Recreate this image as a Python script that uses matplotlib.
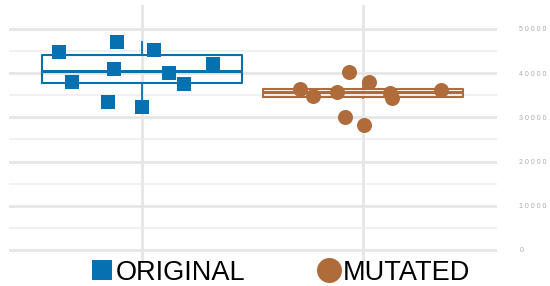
import numpy as np
import matplotlib
matplotlib.use('Agg')
import matplotlib.pyplot as plt
from matplotlib.lines import Line2D

plt.rcParams['font.family'] = ['Liberation Sans', 'DejaVu Sans']

# values
groups = ['ORIGINAL', 'MUTATED']
original = [44800, 47060, 45250, 38010, 40950, 40050, 42080, 37560, 33480, 32350]
original_jitter = [-0.376, -0.113, 0.054, -0.317, -0.127, 0.122, 0.321, 0.190, -0.154, 0.0]
mutated = [36360, 34840, 40270, 35750, 38010, 35590, 34390, 36200, 30160, 28280]
mutated_jitter = [-0.285, -0.226, -0.063, -0.118, 0.027, 0.122, 0.131, 0.353, -0.081, 0.005]
yticks = [0, 10000, 20000, 30000, 40000, 50000]

blue = '#0571b0'
brown = '#b06b3a'

fig = plt.figure(figsize=(5.5, 2.86), dpi=100)
ax = fig.add_axes([0.016, 0.084, 0.888, 0.899])

data = [original, mutated]
colors = [blue, brown]
for i, (vals, c) in enumerate(zip(data, colors)):
    ax.boxplot([vals], positions=[i], widths=0.905, showfliers=False,
               boxprops=dict(color=c, linewidth=1.5),
               medianprops=dict(color=c, linewidth=2.2),
               whiskerprops=dict(color=c, linewidth=1.3),
               capprops=dict(linewidth=0), zorder=2)

ax.plot(np.array(original_jitter), original, 's', color=blue, ms=10.2, mew=0, zorder=3)
ax.plot(1 + np.array(mutated_jitter), mutated, 'o', color=brown, ms=10.8, mew=0, zorder=3)

ax.set_xlim(-0.602, 1.606)
ax.set_ylim(-2710, 55430)
ax.set_xticks([0, 1])
ax.set_xticklabels(['', ''])
ax.set_yticks(yticks)
ax.set_yticks([5000, 15000, 25000, 35000, 45000], minor=True)
ax.set_yticklabels([' '.join(str(v)) for v in yticks], fontsize=5, color='#aaaaaa')
ax.yaxis.tick_right()
ax.tick_params(axis='both', which='both', length=0)
ax.tick_params(axis='y', pad=16)
ax.grid(True, which='major', color='#e6e6e6', linewidth=2)
ax.grid(True, which='minor', axis='y', color='#ececec', linewidth=1.1)
ax.set_axisbelow(True)
for s in ax.spines.values():
    s.set_visible(False)

handles = [Line2D([], [], marker='s', color=blue, ls='', ms=15, mew=0),
           Line2D([], [], marker='o', color=brown, ls='', ms=18, mew=0)]
fig.legend(handles, groups, loc='lower center', ncol=2, frameon=False,
           fontsize=19.5, handletextpad=0.0, columnspacing=2.6,
           handlelength=1.0, bbox_to_anchor=(0.508, -0.085))

fig.savefig('out.png', dpi=100)
